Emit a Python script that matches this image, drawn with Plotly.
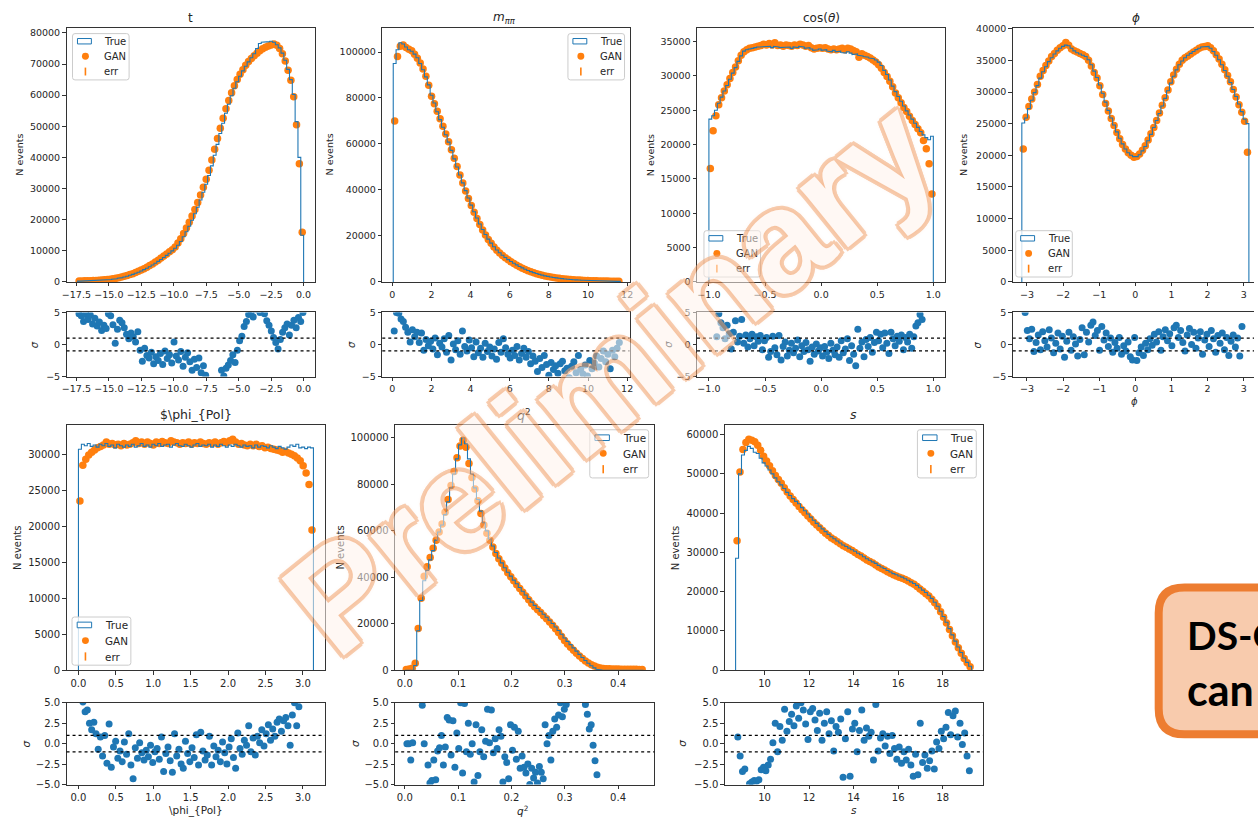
import numpy as np
import plotly.graph_objects as go

W, H = 1258, 827
FONT = "DejaVu Sans"
BLUE = "#1f77b4"
ORANGE = "#ff7f0e"
TXT = "#262626"
AX = "#333333"

# ------------------------------------------------------------------ data
# t
t_bins = (-17.4, 0.0)
t_true = [250, 280, 300, 330, 360, 400, 440, 490, 540, 600,
          670, 760, 870, 1000, 1170, 1370, 1600, 1850, 2130, 2430,
          2780, 3130, 3520, 3950, 4420, 4900, 5430, 6000, 6600, 7230,
          7870, 8520, 9230, 9980, 10800, 11800, 13000, 14500, 16100, 17900,
          19800, 21900, 24000, 26300, 28800, 31400, 34200, 37300, 40700, 44200,
          47700, 51000, 54200, 57100, 59800, 62200, 64300, 66100, 67800, 69300,
          70700, 72000, 73300, 75000, 76600, 77000, 77100, 77200, 77300, 77000,
          76200, 75200, 73500, 71200, 68300, 65000, 60200, 51500, 40000, 15000]
t_gan = [300, 320, 350, 380, 420, 460, 500, 560, 620, 690,
         770, 880, 1000, 1150, 1350, 1580, 1800, 2050, 2350, 2650,
         3050, 3400, 3800, 4250, 4750, 5250, 5800, 6400, 7000, 7650,
         8300, 8950, 9700, 10300, 11200, 12500, 13900, 15600, 17300, 19200,
         21200, 23300, 25500, 27900, 30400, 33000, 35900, 39200, 42600, 46100,
         49400, 52600, 55600, 58300, 60800, 63000, 65000, 66700, 68200, 69600,
         70800, 71800, 72700, 73500, 74300, 74900, 75400, 75800, 76100, 76400,
         76000, 75000, 73300, 71000, 68000, 64800, 59500, 50500, 38000, 16000]
t_res_span = (-17.3, -0.05)
t_res = [4.8, 4.5, 3.6, 4.7, 3.9, 4.6, 3.2, 4.1, 2.9, 3.5,
         2.2, 3.0, 2.5, 4.8, 4.5, 3.1, 0.2, 2.4, 3.8, 3.4,
         2.6, 1.6, 0.9, 1.8, 1.2, 0.4, 2.0, -0.9, -2.6, -0.6,
         -1.7, -2.1, -1.2, -3.0, -1.9, -2.5, -1.4, -3.1, -1.0, -2.2,
         -1.6, -2.9, 0.4, -1.8, -2.4, -1.1, -3.4, -2.0, -1.3, -2.7,
         -4.0, -2.3, -3.6, -2.1, -4.4, -3.3, -4.8, -6.0, -7.0, -6.5,
         -8.0, -6.0, -5.8, -4.0, -4.9, -3.7, -3.2, -2.5, -1.6, -2.8,
         -0.9, 0.6, 1.3, 2.8, 3.6, 4.7, 4.8, 4.3, 5.5, 6.0,
         5.0, 6.2, 4.8, 3.7, 3.0, 2.1, 1.1, 0.3, -0.7, 0.8,
         1.9, 2.6, 3.2, 1.5, 3.0, 3.8, 2.6, 4.2, 3.6, 5.0]

# m_pipi
m_bins = (0.05, 11.65)
m_true = [95000, 101000, 104000, 103500, 102200, 101000, 100300, 99100, 97500, 95000,
          92300, 89200, 85700, 81200, 77800, 74000, 70600, 67300, 64000, 60800,
          57200, 53500, 50000, 46500, 43100, 39700, 36500, 33400, 30500, 27800,
          25200, 22800, 20600, 18600, 16900, 15300, 13900, 12700, 11600, 10600,
          9700, 8900, 8100, 7400, 6700, 6100, 5500, 5000, 4500, 4050,
          3650, 3300, 2950, 2650, 2400, 2150, 1950, 1750, 1580, 1430,
          1300, 1170, 1060, 970, 880, 810, 740, 680, 620, 570,
          530, 490, 450, 420, 390, 360, 330, 300, 270, 240]
m_gan = [70000, 98000, 102500, 103000, 102000, 101200, 100500, 99000, 97300, 95200,
         92600, 89500, 85500, 80800, 77500, 74200, 71000, 67700, 64300, 61000,
         57500, 53800, 50200, 46500, 43000, 39500, 36300, 33200, 30300, 27600,
         25000, 22600, 20400, 18500, 16800, 15200, 13800, 12600, 11500, 10500,
         9600, 8800, 8000, 7300, 6600, 6000, 5400, 4900, 4400, 3950,
         3550, 3200, 2900, 2600, 2350, 2100, 1900, 1700, 1550, 1400,
         1270, 1150, 1040, 950, 870, 800, 730, 670, 620, 570,
         530, 490, 450, 420, 390, 360, 330, 300, 280, 250]
m_res_span = (0.1, 11.6)
m_res = [2.1, 5.0, 4.9, 4.0, 3.6, 2.7, 1.9, 0.4, 2.3, 1.2,
         1.9, 0.3, 1.8, -0.9, 0.8, -0.2, 0.5, -0.7, 1.0, -1.6,
         0.2, -0.4, 0.9, -1.2, 1.4, -2.4, 0.1, -0.8, 0.6, -1.5,
         2.1, -0.3, -1.0, 0.7, -0.5, -1.9, 0.4, -1.3, -0.6, -2.0,
         0.2, -1.1, -0.4, -1.8, -0.7, -2.3, 0.3, -1.2, 0.9, -0.5,
         -1.5, -2.1, -0.9, -1.7, -0.3, -2.4, -1.4, -0.6, -2.0, -1.1,
         -3.0, -1.8, -2.6, -4.2, -2.2, -3.6, -1.7, -3.1, -4.8, -2.8,
         -3.9, -3.3, -4.5, -3.0, -2.6, -4.1, -3.7, -5.2, -3.4, -2.7,
         -4.4, -1.7, -3.9, -4.6, -3.2, -4.9, -2.5, -3.8, -2.9, -1.8,
         -3.5, -2.2, -1.0, -2.7, -1.5, -3.8, -0.9, -1.9, -0.6, 0.3]

# cos(theta)
c_bins = (-1.0, 1.0)
c_true = [23700, 24200, 25000, 26000, 26900, 27800, 28600, 29500, 30400, 31200,
          32100, 32900, 33600, 33800, 33900, 34000, 34100, 34200, 34200, 34300,
          34200, 34300, 34100, 34300, 34200, 34100, 34200, 34100, 34200, 34000,
          34200, 34100, 34300, 34200, 34000, 34100, 33900, 33700, 33800, 33900,
          33700, 33800, 33600, 33500, 33700, 33500, 33600, 33400, 33300, 33500,
          33300, 33100, 33200, 33000, 32900, 32800, 32700, 32600, 32500, 32300,
          32000, 31500, 30800, 30200, 29400, 28500, 27700, 27000, 26300, 25600,
          24900, 24300, 23700, 23100, 22500, 21900, 21400, 21000, 20700, 21200]
c_gan = [16500, 22000, 24200, 25800, 26800, 27800, 28700, 29600, 30500, 31300,
         32200, 33000, 33500, 33800, 34000, 34100, 34200, 34300, 34400, 34600,
         34500, 34700, 34500, 34800, 34400, 34500, 34300, 34500, 34400, 34300,
         34500, 34400, 34600, 34500, 34300, 34400, 34100, 33900, 34000, 34100,
         34000, 34100, 33900, 33800, 33900, 33800, 33900, 34000, 33800, 34000,
         33900, 33700, 33500, 32700, 33200, 33000, 32800, 32600, 32300, 32000,
         31600, 31100, 30500, 29900, 29200, 28400, 27500, 26800, 26100, 25400,
         24800, 24100, 23500, 22900, 22300, 21700, 20600, 19400, 17200, 12800]
c_res_span = (-0.93, 0.90)
c_res = [1.2, 4.8, 3.4, 2.6, 0.9, 3.0, 1.7, -0.7, 1.9, 3.7,
         0.4, 1.3, 3.9, 0.2, 1.5, -0.4, 0.9, 1.6, -0.2, 1.2,
         0.5, 1.4, -0.8, 0.6, 1.1, -2.0, -1.1, 1.3, -0.5, -1.6,
         1.4, -2.4, -0.3, 0.4, -1.8, -0.9, 0.2, -1.3, -0.6, 0.7,
         -1.9, -0.2, -1.1, 0.3, -0.8, -2.6, -0.4, -1.5, 0.1, -1.0,
         -0.5, -1.8, -0.3, -1.2, -2.2, 0.2, -0.9, -1.6, -0.4, -2.0,
         0.6, -1.3, -0.7, 0.9, -2.5, -0.2, -1.5, -3.3, 2.4, -0.6,
         0.4, -1.9, 0.8, -0.3, 1.1, -1.2, 0.3, 1.9, 0.6, 1.6,
         -0.5, 1.8, 0.2, -1.4, 1.9, 0.9, -0.2, 1.3, 0.5, 1.5,
         -0.8, 1.1, 0.4, 1.6, -0.6, 1.2, 2.9, 3.4, 4.7, 3.9]

# phi
p_bins = (-3.14159, 3.14159)
p_true = [25100, 25900, 27400, 28700, 29900, 31000, 32200, 33200, 34000, 34800,
          35400, 36000, 36500, 36900, 37200, 37400, 37300, 36900, 36500, 36200,
          36000, 35800, 35600, 35100, 34300, 33300, 32300, 31100, 29800, 28400,
          27100, 25900, 24800, 23700, 22700, 21800, 21000, 20400, 20000, 19800,
          19800, 20100, 20700, 21400, 22300, 23300, 24400, 25500, 26600, 27800,
          29000, 30200, 31400, 32500, 33500, 34300, 34900, 35400, 35800, 36100,
          36400, 36700, 36900, 37100, 37200, 37200, 36900, 36400, 35800, 35100,
          34300, 33400, 32500, 31500, 30400, 29300, 28100, 26900, 25700, 25000]
p_gan = [21000, 26000, 27700, 28900, 30000, 31200, 32500, 33400, 34200, 34900,
         35600, 36100, 36600, 37000, 37300, 37800, 37400, 36800, 36500, 36300,
         36100, 35900, 35600, 35000, 34100, 33100, 32200, 31000, 29600, 28200,
         27000, 25800, 24700, 23600, 22600, 21700, 21000, 20400, 20000, 19700,
         19800, 20200, 20800, 21500, 22400, 23400, 24400, 25500, 26700, 27900,
         29100, 30300, 31600, 32700, 33600, 34400, 35000, 35400, 35700, 36000,
         36300, 36600, 36900, 37100, 37200, 37300, 37000, 36500, 35900, 35200,
         34400, 33500, 32600, 31600, 30400, 29200, 28000, 26800, 25400, 20500]
p_res_span = (-3.05, 2.95)
p_res = [5.0, 2.2, 0.9, 2.4, -1.1, 0.3, 1.5, -0.8, 2.0, 0.6,
         -0.4, 2.3, 1.0, -1.3, 0.2, 1.8, -0.7, 1.3, -2.0, 0.5,
         1.9, -0.9, 1.2, 0.1, -1.8, 0.8, 2.6, -1.6, 1.9, 0.4,
         3.0, 3.5, 1.4, 2.2, -0.9, 2.8, 0.7, 1.8, -0.3, 1.0,
         -1.2, 0.3, -0.6, 1.1, -1.5, -0.2, -1.0, 0.4, -1.9, -2.4,
         1.1, -2.5, -1.3, -0.4, -1.7, 0.2, -0.8, 0.9, -0.1, 1.6,
         0.4, 2.0, -0.9, 1.2, 2.3, 0.6, 1.7, -0.2, 2.6, 3.0,
         1.1, 2.2, 0.3, -1.0, 1.5, 2.5, 0.0, 1.9, -0.6, 1.0,
         2.0, -1.5, 0.7, 1.6, -0.3, 2.2, 0.9, -1.2, 1.4, 0.2,
         1.8, -0.8, 1.1, -1.7, 0.5, 1.5, -0.4, 1.0, -1.8, 2.8]

# phi_Pol
pp_bins = (0.0, 3.14159)
pp_true = [30700, 31400, 31200, 31500, 31100, 31300, 31000, 31400, 31200, 31500,
           31100, 31300, 30900, 31400, 31200, 31000, 31300, 31100, 31400, 31000,
           31200, 31500, 31100, 31300, 31000, 31400, 31200, 31500, 31100, 31300,
           31400, 31000, 31300, 31500, 31200, 31100, 31400, 31200, 31000, 31300,
           31500, 31100, 31300, 31200, 31400, 31000, 31300, 31100, 31400, 31200,
           31000, 31300, 31100, 31400, 31200, 31000, 31300, 31100, 31200, 30900,
           31300, 31000, 31200, 31100, 30900, 31200, 31000, 30800, 31100, 30900,
           30700, 31000, 31300, 31100, 31400, 30900, 31000, 30800, 31000, 30900]
pp_gan = [23500, 28500, 29300, 29900, 30300, 30600, 30900, 31100, 31300, 31700,
          31400, 31500, 31300, 31400, 31200, 31500, 31300, 31400, 31600, 31900,
          31500, 31700, 31400, 31700, 31500, 31300, 31700, 31500, 31800, 31600,
          31500, 31900, 31700, 31600, 31400, 31600, 31500, 31700, 31400, 31600,
          31500, 31700, 31500, 31400, 31600, 31500, 31700, 31400, 31600, 31800,
          31600, 31900, 32100, 31700, 31400, 31500, 31300, 31200, 31400, 31200,
          31400, 31100, 31200, 30900, 31000, 30800, 30700, 30600, 30500, 30300,
          30400, 30200, 30000, 29800, 29500, 29100, 28400, 27400, 25800, 19500]
pp_res_span = (0.06, 2.947)
pp_res = [5.1, 3.9, 4.1, 2.5, 1.7, 2.6, 1.2, -0.7, 0.8, -1.5,
          1.0, -2.4, 2.4, -2.9, -0.4, 0.3, -1.8, -0.9, -2.2, 0.2,
          -1.3, 1.2, -2.6, -4.3, -0.5, -1.8, 0.1, -1.1, -2.0, -0.8,
          -1.6, -0.2, -2.3, -1.0, -0.6, -1.9, 0.8, -3.4, -1.2, -0.4,
          -2.1, -3.5, 1.2, -1.5, -0.7, -2.5, -3.0, 0.3, -1.2, -2.2,
          -0.5, -1.7, 1.1, -2.6, 1.4, -0.9, -2.0, -1.4, 0.9, -2.6,
          -0.3, -1.6, -0.8, -2.2, 0.2, -1.1, -2.5, -0.4, 0.6, -1.7,
          -3.0, 1.3, -0.6, -1.3, 0.4, -0.2, 2.2, -1.0, 0.7, -1.4,
          0.9, 0.1, 1.7, -0.3, 1.2, 2.3, 0.4, 1.8, 0.9, 2.6,
          3.0, 1.5, 2.8, 3.2, 2.2, -0.2, 3.5, 5.0, 2.2, 4.5]

# q^2
q_bins = (0.0, 0.448)
q_true = [0, 0, 0, 2000, 17000, 30000, 38500, 43000, 47500, 51500,
          56000, 59500, 62500, 67000, 72500, 78500, 84500, 91000, 97000, 100000,
          97500, 91000, 84500, 78500, 73500, 68500, 63500, 60000, 56500, 53500,
          50700, 48300, 46200, 44100, 42200, 40500, 38800, 37200, 35600, 34000,
          32400, 30800, 29300, 27900, 26600, 25400, 24100, 22800, 21500, 20100,
          18600, 17100, 15500, 13900, 12400, 11000, 9600, 8200, 6800, 5500,
          4200, 3000, 1900, 1000, 400, 100, 0, 0, 0, 0,
          0, 0, 0, 0, 0, 0, 0, 0, 0, 0]
q_gan = [300, 500, 800, 3000, 18000, 31000, 40500, 44500, 48500, 52500,
         56000, 59500, 63000, 68000, 73500, 79500, 85500, 91500, 96500, 99000,
         96000, 89000, 83000, 78000, 73000, 67500, 62500, 59000, 56000, 53000,
         50200, 48000, 46000, 44000, 42000, 40200, 38500, 36800, 35200, 33600,
         32000, 30300, 28700, 27300, 26000, 24800, 23500, 22200, 20800, 19400,
         17800, 16200, 14500, 12800, 11300, 9900, 8600, 7300, 6100, 5000,
         4000, 3100, 2400, 1800, 1300, 950, 750, 650, 580, 540,
         510, 490, 470, 450, 430, 420, 400, 380, 360, 340]
q_res_span = (0.004, 0.3604)
q_res = [0.0, 0.0, -2.0, 0.1, 8.0, -7.0, 9.0, -8.0, 4.7, 0.0,
         -6.0, -2.6, -4.8, -4.5, -2.0, -4.4, -0.9, -0.5, 1.0, -2.6,
         -0.4, 3.2, 2.9, -1.4, 2.8, -2.9, 1.3, -0.6, 5.0, -3.6,
         4.9, -1.0, 2.5, -1.3, 0.0, -4.7, 2.3, -3.9, -1.0, 1.7,
         -1.6, 0.3, 4.2, 0.1, 4.1, -1.1, 0.6, -0.6, 1.7, 0.9,
         -4.7, -1.6, -2.3, -4.3, 2.3, -0.8, 2.0, -1.9, 1.5, -3.0,
         -1.5, -2.9, -3.6, -2.5, -5.0, -3.0, -4.2, -3.5, -4.8, -2.8,
         -3.5, -4.3, 2.3, 0.0, 1.0, -2.0, 1.5, 3.0, 2.0, 3.5,
         5.0, 3.3, 4.2, 4.8, 7.0, 8.0, 9.0, 7.5, 8.0, 10.0,
         9.0, 7.0, 6.0, 4.8, 3.6, 1.8, 2.3, -0.2, -2.1, -3.8]

# s
s_bins = (8.7, 19.3)
s_true = [28500, 50000, 54800, 56000, 57000, 56500, 55500, 55200, 54000, 52800,
          52000, 51000, 50000, 49000, 48000, 47200, 46300, 45300, 44500, 43700,
          43000, 42400, 41400, 40600, 39800, 39000, 38200, 37400, 36700, 36000,
          35300, 34600, 34000, 33500, 32900, 32400, 31900, 31500, 31100, 30700,
          30300, 29800, 29400, 28900, 28400, 28000, 27600, 27200, 26700, 26300,
          25900, 25400, 25000, 24600, 24300, 24000, 23700, 23300, 22900, 22500,
          22100, 21600, 21000, 20400, 19800, 19100, 18300, 17300, 16300, 15000,
          13700, 12200, 10600, 9000, 7400, 5900, 4500, 3100, 2000, 1000]
s_gan = [33000, 50500, 56200, 58000, 58800, 58600, 58200, 57300, 56000, 54500,
         53300, 52100, 50800, 49600, 48600, 47600, 46500, 45400, 44400, 43500,
         42600, 41700, 40900, 40100, 39300, 38500, 37700, 37000, 36300, 35600,
         34900, 34300, 33700, 33200, 32700, 32200, 31700, 31300, 30900, 30500,
         30000, 29500, 29100, 28600, 28100, 27700, 27300, 26800, 26300, 25900,
         25500, 25100, 24700, 24300, 24000, 23700, 23400, 23100, 22700, 22300,
         21900, 21300, 20700, 20100, 19500, 18900, 18100, 17200, 16200, 14900,
         13500, 12000, 10400, 8800, 7200, 5700, 4300, 3000, 1900, 900]
s_res_span = (8.8, 19.2)
s_res = [0.8, -1.5, -3.4, -3.1, -5.5, -4.9, -4.7, -4.5, -4.6, -4.4,
         -3.2, -2.9, -3.3, -2.6, -1.9, 0.1, 2.5, -1.0, 2.1, 0.4,
         4.2, 1.5, 2.7, 3.6, 2.2, 4.6, 3.1, 5.0, 4.1, 2.4,
         0.5, 3.9, 4.3, 2.9, 1.6, 3.7, 0.4, 2.5, 3.9, 1.2,
         2.8, -0.9, 2.1, 1.4, 3.0, -4.1, 0.6, 3.9, -4.0, 1.8,
         2.5, -1.0, 1.6, 4.1, 0.4, 1.9, 0.9, 1.4, -2.0, 4.8,
         -0.9, 0.7, 1.2, -0.3, 0.9, -1.2, 1.0, -0.6, -1.9, -0.4,
         -2.4, -1.0, -2.0, -0.7, -2.6, -4.0, -1.3, -3.8, 2.5, -2.3,
         -1.4, -3.0, -2.1, -0.9, -3.1, 0.2, -0.6, 1.5, 0.6, 2.0,
         3.8, 1.1, 3.4, 4.0, 0.8, 2.5, -0.1, 1.3, -1.5, -3.3]

# tick values
t_xticks = [-17.5, -15.0, -12.5, -10.0, -7.5, -5.0, -2.5, 0.0]
t_yticks = [0, 10000, 20000, 30000, 40000, 50000, 60000, 70000, 80000]
m_xticks = [0, 2, 4, 6, 8, 10, 12]
m_yticks = [0, 20000, 40000, 60000, 80000, 100000]
c_xticks = [-1.0, -0.5, 0.0, 0.5, 1.0]
c_yticks = [0, 5000, 10000, 15000, 20000, 25000, 30000, 35000]
p_xticks = [-3, -2, -1, 0, 1, 2, 3]
p_yticks = [0, 5000, 10000, 15000, 20000, 25000, 30000, 35000, 40000]
pp_xticks = [0.0, 0.5, 1.0, 1.5, 2.0, 2.5, 3.0]
pp_yticks = [0, 5000, 10000, 15000, 20000, 25000, 30000]
q_xticks = [0.0, 0.1, 0.2, 0.3, 0.4]
q_yticks = [0, 20000, 40000, 60000, 80000, 100000]
s_xticks = [10, 12, 14, 16, 18]
s_yticks = [0, 10000, 20000, 30000, 40000, 50000, 60000]
res_ticks_row1 = [-5, 0, 5]
res_ticks_row2 = [-5.0, -2.5, 0.0, 2.5, 5.0]

# ------------------------------------------------------------------ panels
panels = [
    dict(bins=t_bins, true=t_true, gan=t_gan, rspan=t_res_span, res=t_res,
         box=(62, 312, 22, 280, 311, 376), xr=[-18.26, 0.86], yr=[0, 81680],
         xt=t_xticks, xf=".1f", yt=t_yticks, rt=res_ticks_row1, rf="d",
         title="t", tx=187, ty=12.5, nev=(15, 151), sig=(30, 343.5),
         leg=(68, 28), ls=1.0, fs=9.5, mirror=True, xlabel=None),
    dict(bins=m_bins, true=m_true, gan=m_gan, rspan=m_res_span, res=m_res,
         box=(380, 629, 22, 280, 311, 376), xr=[-0.51, 12.12], yr=[0, 110580],
         xt=m_xticks, xf="d", yt=m_yticks, rt=res_ticks_row1, rf="d",
         title="<i>m</i><sub><i>ππ</i></sub>", tx=503, ty=12.5, nev=(327, 151), sig=(349, 343.5),
         leg=(567, 28), ls=1.0, fs=9.5, mirror=True, xlabel=None),
    dict(bins=c_bins, true=c_true, gan=c_gan, rspan=c_res_span, res=c_res,
         box=(697, 947, 22, 280, 311, 376), xr=[-1.106, 1.106], yr=[0, 37010],
         xt=c_xticks, xf=".1f", yt=c_yticks, rt=res_ticks_row1, rf="d",
         title="cos(<i>θ</i>)", tx=822, ty=12.5, nev=(650, 151), sig=(668, 343.5),
         leg=(704, 228), ls=1.0, fs=9.5, mirror=True, xlabel=None),
    dict(bins=p_bins, true=p_true, gan=p_gan, rspan=p_res_span, res=p_res,
         box=(1015, 1258, 22, 280, 311, 376), xr=[-3.393, 3.283], yr=[0, 40160],
         xt=p_xticks, xf="d", yt=p_yticks, rt=res_ticks_row1, rf="d",
         title="<i>ϕ</i>", tx=1139, ty=12.5, nev=(966, 151), sig=(980, 343.5),
         leg=(1018, 228), ls=1.0, fs=9.5, mirror=False, xlabel=("<i>ϕ</i>", 1138, 401)),
    dict(bins=pp_bins, true=pp_true, gan=pp_gan, rspan=pp_res_span, res=pp_res,
         box=(62, 322, 425, 674, 707, 790), xr=[-0.159, 3.292], yr=[0, 34100],
         xt=pp_xticks, xf=".1f", yt=pp_yticks, rt=res_ticks_row2, rf=".1f",
         title="$\\phi_{Pol}", tx=192, ty=415, nev=(12, 550), sig=(21, 748.5),
         leg=(67.5, 620), ls=1.04, fs=10, mirror=True, xlabel=("\\phi_{Pol}", 192, 816)),
    dict(bins=q_bins, true=q_true, gan=q_gan, rspan=q_res_span, res=q_res,
         box=(393, 654, 425, 674, 707, 790), xr=[-0.018, 0.468], yr=[0, 105640],
         xt=q_xticks, xf=".1f", yt=q_yticks, rt=res_ticks_row2, rf=".1f",
         title="<i>q</i><sup>2</sup>", tx=523, ty=415, nev=(337, 550), sig=(352, 748.5),
         leg=(589, 430), ls=1.04, fs=10, mirror=True, xlabel=("<i>q</i><sup>2</sup>", 521, 816)),
    dict(bins=s_bins, true=s_true, gan=s_gan, rspan=s_res_span, res=s_res,
         box=(725, 985, 425, 674, 707, 790), xr=[8.216, 19.81], yr=[0, 62500],
         xt=s_xticks, xf="d", yt=s_yticks, rt=res_ticks_row2, rf=".1f",
         title="<i>s</i>", tx=855, ty=415, nev=(675, 550), sig=(682, 748.5),
         leg=(919, 430), ls=1.04, fs=10, mirror=True, xlabel=("<i>s</i>", 855, 816)),
]


def PX(v):
    return v / W


def PY(v):
    return 1 - v / H


def ann(px, py, text, size, angle=0, xanchor="center", yanchor="middle",
        color=TXT, family=FONT):
    return dict(x=PX(px), y=PY(py), xref="paper", yref="paper", text=text,
                showarrow=False, xanchor=xanchor, yanchor=yanchor,
                textangle=angle, font=dict(family=family, size=size, color=color))


def rrect_path(x0, y0, x1, y1, r):
    pts = [("M", x0 + r, y0), ("L", x1 - r, y0), ("Q", x1, y0, x1, y0 + r),
           ("L", x1, y1 - r), ("Q", x1, y1, x1 - r, y1), ("L", x0 + r, y1),
           ("Q", x0, y1, x0, y1 - r), ("L", x0, y0 + r), ("Q", x0, y0, x0 + r, y0)]
    out = []
    for p in pts:
        cmd, vals = p[0], p[1:]
        coords = []
        for i in range(0, len(vals), 2):
            coords.append(f"{PX(vals[i]):.5f},{PY(vals[i + 1]):.5f}")
        out.append(cmd + " " + " ".join(coords))
    return " ".join(out) + " Z"


fig = go.Figure()
layout = {}
shapes = []
annotations = []

for k, p in enumerate(panels):
    im, ir = 2 * k + 1, 2 * k + 2
    sm = "" if im == 1 else str(im)
    sr = str(ir)
    lo, hi = p["bins"]
    vt = np.asarray(p["true"], float)
    vg = np.asarray(p["gan"], float)
    edges = np.linspace(lo, hi, len(vt) + 1)
    centers = 0.5 * (edges[:-1] + edges[1:])
    xs = np.r_[edges[0], np.repeat(edges, 2)[1:-1], edges[-1]]
    ys = np.r_[0.0, np.repeat(vt, 2), 0.0]
    rv = np.asarray(p["res"], float)
    rx = np.linspace(p["rspan"][0], p["rspan"][1], len(rv))

    fig.add_trace(go.Scatter(x=centers, y=vg, mode="markers",
                             marker=dict(size=7.5, color=ORANGE),
                             xaxis="x" + sm, yaxis="y" + sm, hoverinfo="skip"))
    fig.add_trace(go.Scatter(x=xs, y=ys, mode="lines",
                             line=dict(color=BLUE, width=1.1),
                             xaxis="x" + sm, yaxis="y" + sm, hoverinfo="skip"))
    fig.add_trace(go.Scatter(x=rx, y=rv, mode="markers",
                             marker=dict(size=7, color=BLUE),
                             xaxis="x" + sr, yaxis="y" + sr, hoverinfo="skip"))

    L, R, MT, MB, RT, RB = p["box"]
    xd = [PX(L), PX(min(R, W))]
    base = dict(showline=True, linecolor=AX, linewidth=1, ticks="outside",
                ticklen=3.5, tickwidth=0.8, tickcolor=AX, showgrid=False,
                zeroline=False, fixedrange=True,
                tickfont=dict(family=FONT, size=p["fs"], color=TXT))
    layout["xaxis" + sm] = dict(base, domain=xd, range=p["xr"], anchor="y" + sm,
                                tickvals=p["xt"], tickformat=p["xf"], mirror=True)
    layout["yaxis" + sm] = dict(base, domain=[PY(MB), PY(MT)], range=p["yr"],
                                anchor="x" + sm, tickvals=p["yt"], tickformat="d",
                                mirror=p["mirror"])
    layout["xaxis" + sr] = dict(base, domain=xd, range=p["xr"], anchor="y" + sr,
                                tickvals=p["xt"], tickformat=p["xf"], mirror=True)
    layout["yaxis" + sr] = dict(base, domain=[PY(RB), PY(RT)], range=[-5, 5],
                                anchor="x" + sr, tickvals=p["rt"], tickformat=p["rf"],
                                mirror=p["mirror"])

    for yv in (1, -1):
        shapes.append(dict(type="line", xref=f"x{sr} domain", yref=f"y{sr}",
                           x0=0, x1=1, y0=yv, y1=yv, layer="above",
                           line=dict(color="black", width=1.3, dash="dot")))

    # labels
    tsize = 12 if k < 4 else 12.5
    annotations.append(ann(p["tx"], p["ty"], p["title"], tsize))
    annotations.append(ann(p["nev"][0], p["nev"][1], "N events", p["fs"], angle=-90))
    annotations.append(ann(p["sig"][0], p["sig"][1], "<i>σ</i>", p["fs"] + 0.5, angle=-90))
    if p["xlabel"]:
        annotations.append(ann(p["xlabel"][1], p["xlabel"][2], p["xlabel"][0], p["fs"] + 0.5))

    # legend (drawn manually, matplotlib style)
    bx, by = p["leg"]
    s = p["ls"]
    shapes.append(dict(type="path", xref="paper", yref="paper", layer="above",
                       path=rrect_path(bx, by, bx + 57 * s, by + 47 * s, 2.5),
                       fillcolor="rgba(255,255,255,0.8)",
                       line=dict(color="rgba(204,204,204,1)", width=1)))
    shapes.append(dict(type="rect", xref="paper", yref="paper", layer="above",
                       x0=PX(bx + 5 * s), x1=PX(bx + 19 * s),
                       y0=PY(by + 10.5 * s), y1=PY(by + 5 * s),
                       fillcolor="white", line=dict(color=BLUE, width=1)))
    cx, cy = bx + 13 * s, by + 23 * s
    shapes.append(dict(type="circle", xref="paper", yref="paper", layer="above",
                       x0=PX(cx - 3.5), x1=PX(cx + 3.5), y0=PY(cy + 3.5), y1=PY(cy - 3.5),
                       fillcolor=ORANGE, line=dict(color=ORANGE, width=0)))
    shapes.append(dict(type="line", xref="paper", yref="paper", layer="above",
                       x0=PX(cx), x1=PX(cx), y0=PY(by + 34.5 * s), y1=PY(by + 42.5 * s),
                       line=dict(color=ORANGE, width=1.6)))
    for txt, dy in (("True", 7.8), ("GAN", 23.3), ("err", 38.6)):
        annotations.append(ann(bx + 30 * s, by + dy * s, txt, 10 * s, xanchor="left"))

# ------------------------------------------------------------------ overlays
# call-out box at the right edge (partially outside the slide crop)
shapes.append(dict(type="path", xref="paper", yref="paper", layer="above",
                   path=rrect_path(1162, 590, 1440, 739, 26),
                   fillcolor="#F8CBAD", line=dict(color="#ED7D31", width=8)))
annotations.append(ann(1189, 638, "<b>DS-GAN reproduces</b>", 39, xanchor="left",
                       color="#000000", family="Lato"))
annotations.append(ann(1188, 694, "<b>can reproduce</b>", 43, xanchor="left",
                       color="#000000", family="Lato"))

# "Preliminary" watermark
wm_shadow = ("0 0 5px rgba(237,125,49,0.9), 4px 0 0 #F2A46F, -4px 0 0 #F2A46F, "
             "0 4px 0 #F2A46F, 0 -4px 0 #F2A46F, 3px 3px 0 #F2A46F, "
             "-3px -3px 0 #F2A46F, 3px -3px 0 #F2A46F, -3px 3px 0 #F2A46F")
annotations.append(dict(x=PX(609), y=PY(376), xref="paper", yref="paper",
                        text="<b>Preliminary</b>", showarrow=False,
                        xanchor="center", yanchor="middle", textangle=-39,
                        opacity=0.55,
                        font=dict(family="Liberation Sans", size=144,
                                  color="#FFF3EC", shadow=wm_shadow)))

fig.update_layout(width=W, height=H, margin=dict(l=0, r=0, t=0, b=0),
                  paper_bgcolor="white", plot_bgcolor="white", showlegend=False,
                  shapes=shapes, annotations=annotations, **layout)

fig.write_html("out.html")
